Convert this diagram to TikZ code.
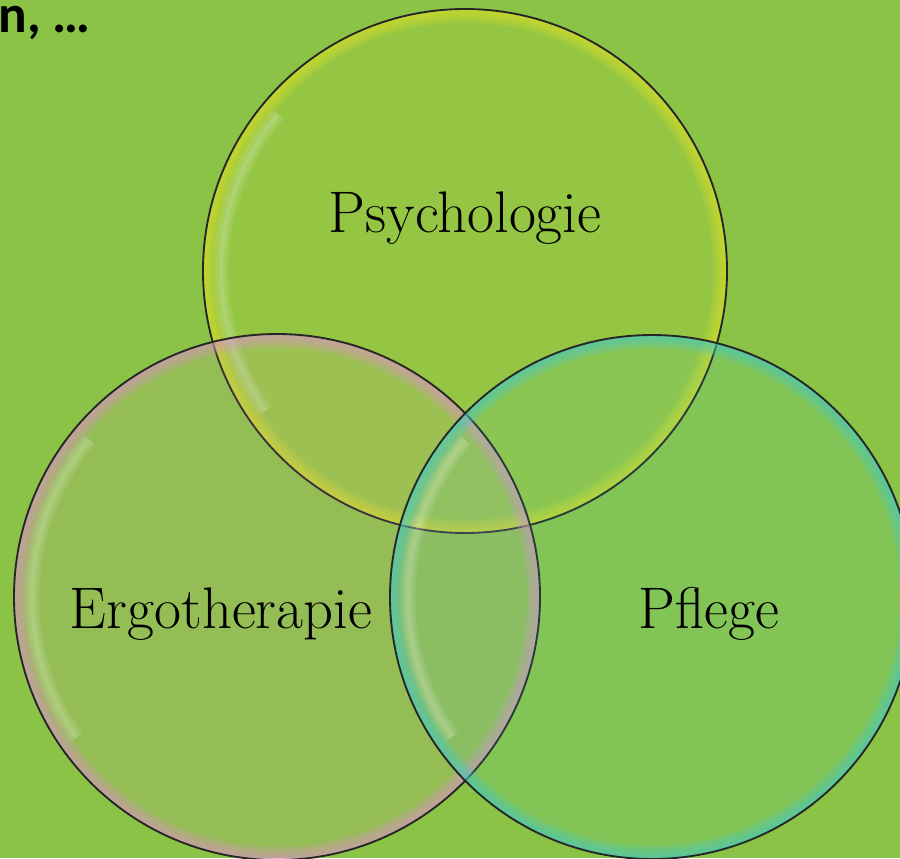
\documentclass[tikz,border=0pt]{standalone}
\usepackage{fontspec}
\newfontfamily\calibri{Carlito}
\definecolor{bggreen}{RGB}{139,195,71}
\definecolor{rimyellow}{RGB}{222,226,40}
\definecolor{rimpink}{RGB}{222,150,200}
\definecolor{rimcyan}{RGB}{70,205,200}
\tikzset{every picture/.style={line width=0.75pt}}
\tikzset{
  bubbletext/.style={inner sep=0.75pt, font=\fontsize{44}{46}\selectfont},
  outline/.style={draw=black!85, line width=1.4pt}
}
% one soap bubble: centre, radius, rim colour
\newcommand{\bubble}[3]{%
  \fill[#3, fill opacity=0.12] (#1) circle (#2);
  \begin{scope}
    \clip (#1) circle (#2);
    \foreach \w in {3,6,...,21}
      \draw[#3, draw opacity=0.13, line width=\w pt] (#1) circle (#2);
    \foreach \w in {3,7,11}
      \draw[white, draw opacity=0.09, line width=\w pt] (#1) ++(145:#2-18) arc (145:220:#2-18);
  \end{scope}
  \draw[outline] (#1) circle (#2);
}

\begin{document}
\begin{tikzpicture}[x=0.75pt,y=0.75pt,yscale=-1,xscale=1]
\useasboundingbox (0,0) rectangle (900,858);
\fill[bggreen] (0,0) rectangle (900,858);

% Text Node
\node[anchor=base west, inner sep=0pt, font=\calibri\bfseries\fontsize{40}{42}\selectfont] (cut) at (-2,32) {n, \dots};

%Shape: Circle
\coordinate (cPsy) at (465,271);
\coordinate (cErgo) at (277,597);
\coordinate (cPfl) at (652,597);
\bubble{cPsy}{262}{rimyellow}
\bubble{cErgo}{263}{rimpink}
\bubble{cPfl}{262}{rimcyan}

% Text Node
\node[bubbletext] (psy) at (465,218) {Psychologie};
% Text Node
\node[bubbletext] (ergo) at (221,614) {Ergotherapie};
% Text Node
\node[bubbletext] (pflege) at (709,614) {Pflege};

\end{tikzpicture}
\end{document}
